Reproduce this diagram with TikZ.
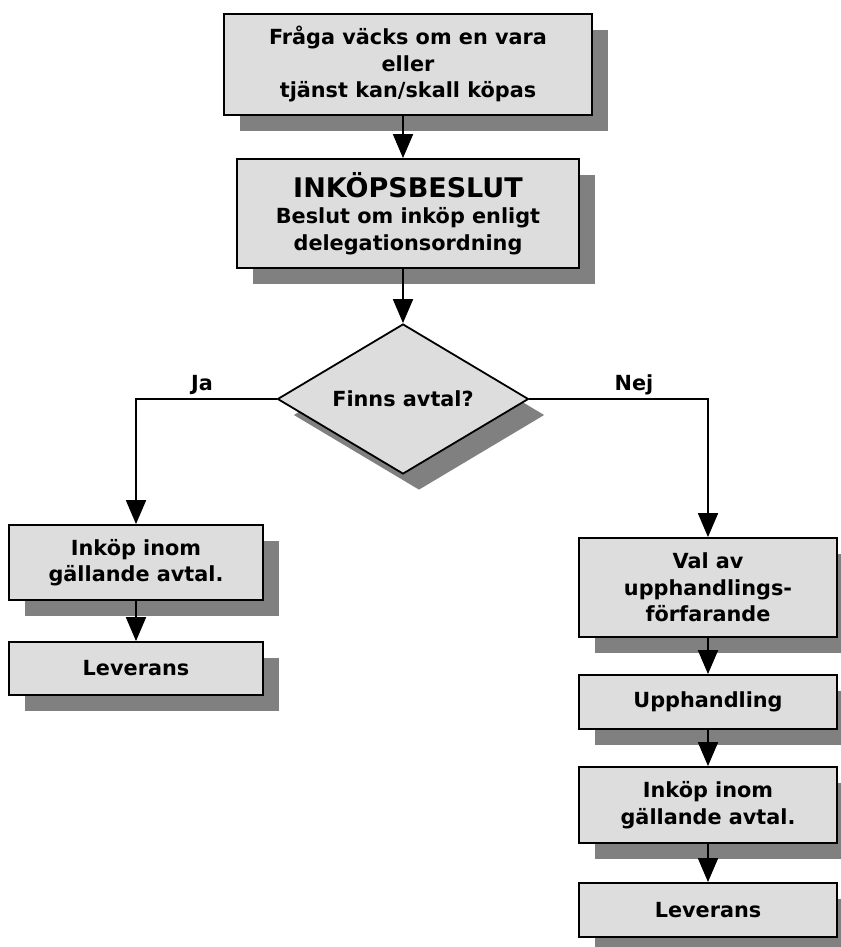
\documentclass[tikz,border=0pt]{standalone}
\usepackage{fontspec}
\setmainfont{DejaVu Sans}
\usetikzlibrary{shapes.geometric,shadows,arrows.meta}
\definecolor{boxgray}{HTML}{DDDDDD}
\definecolor{shadowgray}{HTML}{808080}
\def\shadowsep{16bp}

\begin{document}
\begin{tikzpicture}[x=1bp,y=-1bp,->,>={Triangle[length=24bp,width=20bp]},line width=1.8bp,
    font=\fontsize{20.8bp}{26.5bp}\selectfont\bfseries]
    \tikzstyle{box}=[draw=black,fill=boxgray,align=center,inner sep=0pt,
        drop shadow={shadow xshift=\shadowsep,shadow yshift=-\shadowsep,fill=shadowgray,opacity=1}]
    \tikzstyle{decision}=[box,diamond,aspect=1.67,minimum width=251bp,minimum height=150bp]
    \tikzstyle{annot}=[inner sep=0pt]

    \useasboundingbox (0,0) rectangle (841,947);

    % Top of the flow
    \node[box,minimum width=368bp,minimum height=101bp] (Q) at (408,64.5)
        {Fråga väcks om en vara\\eller\\tjänst kan/skall köpas};
    \node[box,minimum width=342bp,minimum height=109bp] (Beslut) at (408,213.5)
        {{\fontsize{27bp}{30bp}\selectfont INKÖPSBESLUT}\\Beslut om inköp enligt\\delegationsordning};

    % The question
    \node[decision] (Avtal) at (403,399) {Finns avtal?};

    % Left branch (Ja)
    \node[box,minimum width=254bp,minimum height=75bp] (J-1) at (136,562.5) {Inköp inom\\gällande avtal.};
    \node[box,minimum width=254bp,minimum height=53bp] (J-2) at (136,668.5) {Leverans};

    % Right branch (Nej)
    \node[box,minimum width=258bp,minimum height=99bp] (N-1) at (708,587.5) {Val av\\upphandlings-\\förfarande};
    \node[box,minimum width=258bp,minimum height=54bp] (N-2) at (708,702) {Upphandling};
    \node[box,minimum width=258bp,minimum height=76bp] (N-3) at (708,805) {Inköp inom\\gällande avtal.};
    \node[box,minimum width=258bp,minimum height=54bp] (N-4) at (708,910) {Leverans};

    % Connect the boxes
    \draw (Q.south -| Avtal.north) -- (Beslut.north -| Avtal.north);
    \draw (Beslut.south -| Avtal.north) -- (Avtal.north);
    \draw (Avtal.west) -| (J-1.north);
    \draw (Avtal.east) -| (N-1.north);
    \draw (J-1) -- (J-2);
    \draw (N-1) -- (N-2);
    \draw (N-2) -- (N-3);
    \draw (N-3) -- (N-4);

    % Annotate the branches
    \node[annot] (ja) at (202,385) {Ja};
    \node[annot] (nej) at (634,385) {Nej};
\end{tikzpicture}
\end{document}
